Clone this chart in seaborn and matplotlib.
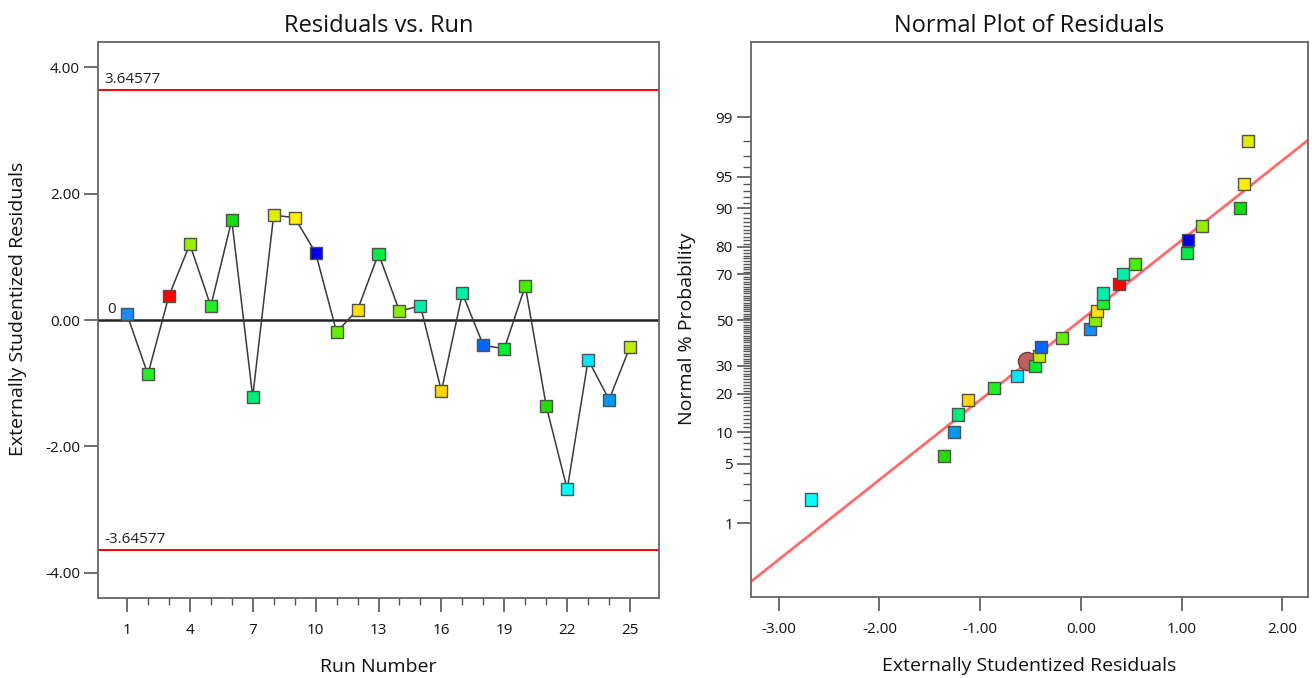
import numpy as np
import pandas as pd
import matplotlib
matplotlib.use("Agg")
import matplotlib.pyplot as plt
import seaborn as sns
from statistics import NormalDist
from matplotlib.ticker import FixedLocator, FixedFormatter, FormatStrFormatter

# ---------------- data ----------------
runs = list(range(1, 26))
residuals = [0.09, -0.86, 0.38, 1.20, 0.22, 1.58, -1.215, 1.66, 1.62, 1.065,
             -0.19, 0.16, 1.05, 0.14, 0.225, -1.125, 0.42, -0.40, -0.455, 0.54,
             -1.36, -2.68, -0.63, -1.26, -0.42]
run_colors = ["#1a8cff", "#22ee22", "#ff0000", "#99ee00", "#22ee22", "#11dd11",
              "#00ee77", "#ddee00", "#ffee00", "#0000ee", "#66ee00", "#ffe000",
              "#00ee44", "#88ee00", "#00eeaa", "#ffd700", "#00eeaa", "#0066ff",
              "#00ee33", "#44ee00", "#22dd00", "#00ffff", "#00e8ff", "#0099ee",
              "#bbee00"]
limit_upper = 3.64577
limit_lower = -3.64577
run_ticks = [1, 4, 7, 10, 13, 16, 19, 22, 25]
resid_ticks = [-4, -2, 0, 2, 4]
x_ticks_norm = [-3, -2, -1, 0, 1, 2]
prob_major = [1, 5, 10, 20, 30, 50, 70, 80, 90, 95, 99]
prob_minor = list(range(1, 100))
fit_center = 0.0
fit_sd = 1.094
highlight_resid = -0.53
highlight_pct = 32.1

# ---------------- style ----------------
sns.set_theme(style="white")
plt.rcParams["font.family"] = ["Open Sans", "DejaVu Sans"]
plt.rcParams["axes.edgecolor"] = "#666666"
plt.rcParams["axes.linewidth"] = 1.3

nd = NormalDist()
fig = plt.figure(figsize=(13.12, 6.78), dpi=100)
ax1 = fig.add_axes([0.0747, 0.118, 0.4276, 0.820])
ax2 = fig.add_axes([0.5724, 0.1195, 0.4245, 0.8185])

labels = [f"r{r}" for r in runs]
df = pd.DataFrame({"run": runs, "resid": residuals, "lab": labels})

# ---------------- left: residuals vs run ----------------
ax1.axhline(limit_upper, color="#ff0000", lw=1.4, zorder=1)
ax1.axhline(limit_lower, color="#ff0000", lw=1.4, zorder=1)
ax1.axhline(0, color="#222222", lw=1.8, zorder=1)
sns.lineplot(data=df, x="run", y="resid", ax=ax1, color="#3a3a3a", lw=1.1,
             zorder=2, estimator=None, sort=False)
sns.scatterplot(data=df, x="run", y="resid", hue="lab", hue_order=labels,
                palette=run_colors, marker="s", s=75, edgecolor="#505050",
                linewidth=1.0, legend=False, ax=ax1, zorder=3)
ax1.set_xlim(-0.38, 26.38)
ax1.set_ylim(-4.4, 4.4)
ax1.xaxis.set_major_locator(FixedLocator(run_ticks))
ax1.xaxis.set_minor_locator(FixedLocator(runs))
ax1.yaxis.set_major_locator(FixedLocator(resid_ticks))
ax1.yaxis.set_major_formatter(FormatStrFormatter("%.2f"))
ax1.text(0.012, limit_upper + 0.05, f"{limit_upper:.5f}", transform=ax1.get_yaxis_transform(),
         fontsize=11, color="#222222", va="bottom", ha="left")
ax1.text(0.012, limit_lower + 0.05, f"{limit_lower:.5f}", transform=ax1.get_yaxis_transform(),
         fontsize=11, color="#222222", va="bottom", ha="left")
ax1.text(0.016, 0.05, "0", transform=ax1.get_yaxis_transform(),
         fontsize=11, color="#222222", va="bottom", ha="left")
ax1.set_title("Residuals vs. Run", fontsize=17, pad=7, color="#111111")
ax1.set_xlabel("Run Number", fontsize=14, color="#111111")
ax1.set_ylabel("Externally Studentized Residuals", fontsize=14, color="#111111")

# ---------------- right: normal plot ----------------
n = len(residuals)
order = np.argsort(residuals, kind="stable")
sorted_res = [residuals[i] for i in order]
sorted_lab = [labels[i] for i in order]
zvals = [nd.inv_cdf((k + 0.5) / n) for k in range(n)]
df2 = pd.DataFrame({"resid": sorted_res, "z": zvals, "lab": sorted_lab})

ax2.axline((fit_center, 0.0), slope=1.0 / fit_sd, color="#ff6b6b", lw=2.0, zorder=1)
hl = pd.DataFrame({"resid": [highlight_resid], "z": [nd.inv_cdf(highlight_pct / 100)]})
sns.scatterplot(data=hl, x="resid", y="z", ax=ax2, marker="o", s=170,
                color="#bf5f5f", edgecolor="#6e3a3a", linewidth=1.0, zorder=2, legend=False)
sns.scatterplot(data=df2, x="resid", y="z", hue="lab", hue_order=labels,
                palette=run_colors, marker="s", s=75, edgecolor="#505050",
                linewidth=1.0, legend=False, ax=ax2, zorder=3)
ax2.set_xlim(-3.275, 2.255)
ax2.set_ylim(-3.17, 3.185)
ax2.xaxis.set_major_locator(FixedLocator(x_ticks_norm))
ax2.xaxis.set_major_formatter(FormatStrFormatter("%.2f"))
ax2.yaxis.set_major_locator(FixedLocator([nd.inv_cdf(p / 100) for p in prob_major]))
ax2.yaxis.set_major_formatter(FixedFormatter([str(p) for p in prob_major]))
ax2.yaxis.set_minor_locator(FixedLocator([nd.inv_cdf(p / 100) for p in prob_minor
                                          if p not in prob_major]))
ax2.set_title("Normal Plot of Residuals", fontsize=17, pad=7, color="#111111")
ax2.set_xlabel("Externally Studentized Residuals", fontsize=14, color="#111111")
ax2.set_ylabel("Normal % Probability", fontsize=14, color="#111111")

for ax in (ax1, ax2):
    ax.tick_params(axis="both", which="major", direction="out", length=10, width=1.2,
                   color="#555555", labelsize=11, labelcolor="#111111")
    ax.tick_params(axis="both", which="minor", direction="out", length=5, width=1.0,
                   color="#555555")
    ax.tick_params(axis="x", which="both", pad=8, bottom=True)
    ax.tick_params(axis="y", which="both", pad=3, left=True)
    for sp in ax.spines.values():
        sp.set_color("#666666")
        sp.set_linewidth(1.3)
ax2.tick_params(axis="y", which="minor", length=6)

ax1.xaxis.set_label_coords(0.5, -0.108)
ax2.xaxis.set_label_coords(0.5, -0.108)
ax1.yaxis.set_label_coords(-0.127, 0.52)
ax2.yaxis.set_label_coords(-0.098, 0.483)

fig.savefig("out.png", dpi=100)
